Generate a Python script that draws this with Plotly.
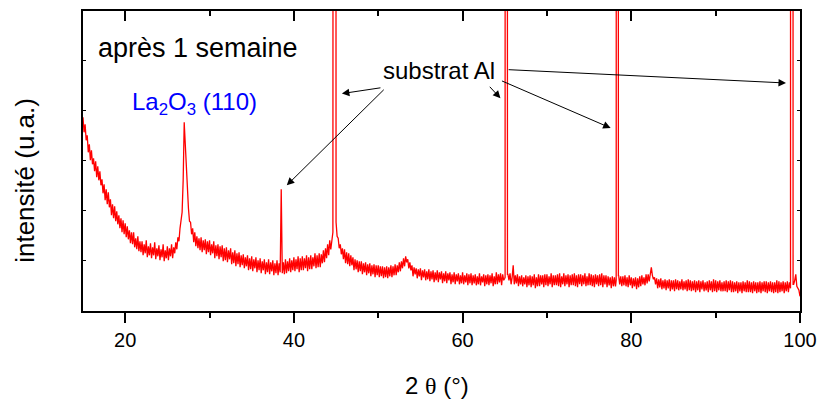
import numpy as np
import plotly.graph_objects as go

# ---- data ----
grid_start, grid_stop, grid_step = 15.0, 100.0, 0.125
# one row per degree (8 samples per degree), then the final point at 100
intensity_rows = [
    [193, 178, 186, 170, 175, 158, 166, 150],   # 15
    [160, 146, 152, 139, 149, 133, 144, 130],   # 16
    [139, 125, 131, 117, 126, 110, 121, 106],   # 17
    [118, 103, 111, 95, 106, 92, 104, 89],      # 18
    [99, 86, 95, 82, 92, 78, 90, 76],           # 19
    [87, 73, 84, 71, 80, 67, 78, 66],           # 20
    [78, 63, 72, 61, 74, 59, 69, 58],           # 21
    [69, 55, 66, 57, 70, 53, 64, 55],           # 22
    [67, 52, 63, 55, 68, 51, 62, 54],           # 23
    [65, 50, 61, 53, 66, 49, 60, 52],           # 24
    [64, 50, 62, 54, 66, 52, 63, 57],           # 25
    [68, 61, 73, 69, 82, 88, 98, 130],          # 26
    [188, 166, 140, 112, 102, 89, 88, 76],      # 27
    [82, 68, 78, 64, 74, 62, 72, 60],           # 28
    [73, 58, 70, 60, 71, 56, 69, 58],           # 29
    [70, 55, 66, 57, 69, 52, 65, 54],           # 30
    [66, 51, 64, 53, 65, 49, 62, 50],           # 31
    [63, 48, 60, 51, 62, 46, 58, 47],           # 32
    [60, 44, 57, 46, 58, 43, 55, 45],           # 33
    [56, 42, 53, 44, 55, 40, 52, 41],           # 34
    [54, 39, 51, 42, 53, 38, 50, 40],           # 35
    [52, 37, 49, 40, 51, 36, 48, 38],           # 36
    [51, 36, 48, 39, 50, 35, 47, 37],           # 37
    [50, 35, 47, 38, 121, 37, 48, 36],          # 38
    [51, 37, 49, 39, 52, 38, 50, 40],           # 39
    [53, 39, 51, 41, 54, 38, 52, 40],           # 40
    [54, 40, 52, 42, 55, 39, 53, 41],           # 41
    [55, 41, 53, 44, 57, 42, 55, 43],           # 42
    [57, 43, 56, 47, 60, 48, 62, 52],           # 43
    [66, 55, 70, 61, 74, 78, 2000, 2000],       # 44
    [88, 74, 72, 62, 66, 56, 62, 51],           # 45
    [61, 47, 58, 46, 57, 44, 55, 45],           # 46
    [53, 40, 51, 41, 50, 38, 49, 39],           # 47
    [49, 36, 47, 38, 48, 35, 46, 37],           # 48
    [47, 34, 45, 36, 46, 33, 45, 35],           # 49
    [45, 33, 44, 34, 44, 32, 43, 33],           # 50
    [44, 32, 43, 34, 45, 33, 44, 35],           # 51
    [46, 35, 45, 38, 48, 39, 49, 42],           # 52
    [52, 44, 54, 48, 51, 42, 48, 40],           # 53
    [45, 34, 43, 36, 42, 32, 41, 34],           # 54
    [42, 30, 40, 33, 41, 30, 39, 31],           # 55
    [41, 29, 39, 31, 40, 28, 38, 30],           # 56
    [40, 28, 38, 31, 39, 27, 37, 29],           # 57
    [39, 27, 37, 30, 38, 26, 36, 28],           # 58
    [38, 26, 36, 29, 37, 26, 35, 27],           # 59
    [38, 26, 35, 28, 37, 25, 36, 27],           # 60
    [37, 25, 35, 27, 36, 25, 34, 26],           # 61
    [37, 25, 34, 28, 36, 24, 35, 26],           # 62
    [36, 25, 35, 27, 37, 24, 34, 26],           # 63
    [38, 26, 36, 28, 37, 25, 36, 30],           # 64
    [32, 2000, 2000, 36, 30, 37, 26, 33],       # 65
    [45, 26, 35, 27, 36, 24, 34, 26],           # 66
    [35, 24, 33, 26, 35, 23, 34, 25],           # 67
    [35, 23, 34, 25, 36, 22, 33, 24],           # 68
    [36, 24, 35, 26, 35, 23, 36, 25],           # 69
    [36, 24, 34, 26, 37, 23, 35, 25],           # 70
    [35, 25, 36, 24, 37, 23, 34, 26],           # 71
    [37, 24, 35, 26, 36, 23, 35, 25],           # 72
    [36, 25, 37, 24, 35, 23, 36, 26],           # 73
    [36, 24, 35, 26, 37, 24, 34, 25],           # 74
    [37, 25, 36, 24, 35, 23, 36, 26],           # 75
    [35, 24, 36, 25, 37, 23, 35, 26],           # 76
    [35, 23, 34, 25, 33, 22, 34, 24],           # 77
    [33, 24, 2000, 2000, 35, 26, 34, 24],       # 78
    [34, 25, 35, 24, 33, 23, 35, 25],           # 79
    [33, 22, 32, 24, 33, 21, 32, 23],           # 80
    [34, 24, 35, 26, 33, 25, 36, 27],           # 81
    [36, 29, 38, 43, 35, 31, 33, 26],           # 82
    [32, 22, 31, 23, 32, 21, 30, 22],           # 83
    [31, 20, 30, 22, 31, 19, 30, 21],           # 84
    [30, 19, 31, 21, 30, 20, 29, 21],           # 85
    [31, 20, 29, 21, 30, 19, 31, 20],           # 86
    [30, 19, 29, 20, 30, 18, 29, 20],           # 87
    [30, 18, 29, 21, 30, 19, 28, 20],           # 88
    [29, 18, 30, 20, 29, 18, 31, 19],           # 89
    [30, 18, 29, 20, 30, 19, 28, 19],           # 90
    [29, 19, 30, 18, 29, 20, 30, 18],           # 91
    [29, 18, 28, 19, 29, 17, 28, 19],           # 92
    [28, 17, 29, 19, 28, 18, 30, 18],           # 93
    [29, 18, 28, 17, 29, 19, 28, 17],           # 94
    [28, 18, 29, 17, 28, 19, 29, 18],           # 95
    [29, 17, 28, 19, 29, 18, 28, 17],           # 96
    [28, 18, 30, 17, 29, 18, 28, 19],           # 97
    [29, 17, 28, 19, 29, 18, 28, 22],           # 98
    [2000, 2000, 26, 30, 36, 24, 22, 20],       # 99
    [14],                                       # 100
]
# extra samples on the sharp reflections
peak_x = [26.95, 27.03, 44.70, 44.94, 65.04, 65.06, 65.29, 65.32,
          78.21, 78.23, 78.44, 78.47, 98.90, 99.15, 99.18]
peak_y = [170, 182, 2000, 2000, 33, 2000, 2000, 36,
          30, 2000, 2000, 34, 2000, 2000, 26]

x_ticks = [20, 40, 60, 80, 100]

intensity_grid = [v for row in intensity_rows for v in row]
grid_x = np.arange(grid_start, grid_stop + 1e-6, grid_step)
assert len(grid_x) == len(intensity_grid), (len(grid_x), len(intensity_grid))
all_x = np.concatenate([grid_x, np.array(peak_x)])
all_y = np.concatenate([np.array(intensity_grid, float), np.array(peak_y, float)])
order = np.argsort(all_x, kind="stable")
two_theta = all_x[order]
intensity = all_y[order]

FONT = "Liberation Sans, Arial, sans-serif"

fig = go.Figure()
fig.add_trace(go.Scatter(x=two_theta, y=intensity, mode="lines",
                         line=dict(color="#ff0000", width=1.3),
                         showlegend=False, hoverinfo="skip"))
fig.add_trace(go.Scatter(x=[None], y=[None], xaxis="x2", showlegend=False, hoverinfo="skip"))

fig.update_layout(
    width=821, height=403,
    margin=dict(l=83, r=21, t=11, b=92, autoexpand=False),
    plot_bgcolor="white", paper_bgcolor="white",
    font=dict(family=FONT, color="black"),
    xaxis=dict(range=[15, 100], tickvals=x_ticks, ticks="outside", ticklen=10, tickwidth=1.8,
               tickcolor="black", showline=True, linecolor="black", linewidth=2,
               showgrid=False, zeroline=False, tickfont=dict(size=20, family=FONT),
               automargin=False,
               minor=dict(dtick=10, tick0=0, ticks="outside", ticklen=5, tickwidth=1.8, tickcolor="black")),
    xaxis2=dict(range=[15, 100], overlaying="x", side="top", tickvals=x_ticks, ticks="inside",
                ticklen=10, tickwidth=1.8, tickcolor="black", showline=True, linecolor="black",
                linewidth=2, showticklabels=False, showgrid=False, zeroline=False, automargin=False,
                minor=dict(dtick=10, tick0=0, ticks="inside", ticklen=5, tickwidth=1.8, tickcolor="black")),
    yaxis=dict(range=[-0.7, 299.3], tick0=0, dtick=50, ticks="inside", ticklen=3, tickwidth=1.2,
               tickcolor="black", showticklabels=False, showline=True, linecolor="black",
               linewidth=2, mirror="ticks", showgrid=False, zeroline=False, automargin=False),
)

ann = []
ann.append(dict(text="après 1 semaine", x=16.5, y=262, xref="x", yref="y", xanchor="left",
                yanchor="middle", showarrow=False, font=dict(size=27, color="black", family=FONT)))
ann.append(dict(text="La<sub>2</sub>O<sub>3</sub> (110)", x=20.6, y=207, xref="x", yref="y",
                xanchor="left", yanchor="middle", showarrow=False,
                font=dict(size=24, color="#0000ff", family=FONT)))
ann.append(dict(text="substrat Al", x=50.3, y=240, xref="x", yref="y", xanchor="left",
                yanchor="middle", showarrow=False, font=dict(size=24, color="black", family=FONT)))
arrows = [((50.44, 222.7), (45.69, 216.7)),
          ((50.83, 222.0), (39.16, 125.0)),
          ((63.06, 225.0), (64.49, 212.0)),
          ((64.49, 230.0), (77.55, 182.3)),
          ((65.28, 240.7), (98.34, 227.3))]
for (tx, ty), (hx, hy) in arrows:
    ann.append(dict(text="", x=hx, y=hy, ax=tx, ay=ty, xref="x", yref="y", axref="x", ayref="y",
                    showarrow=True, arrowhead=2, arrowsize=1.5, arrowwidth=1, arrowcolor="black",
                    standoff=0, startstandoff=0))
ann.append(dict(text="2 <span style=\"font-family:'Liberation Serif'\">θ</span> (°)",
                x=0.494, y=-0.248, xref="paper", yref="paper", xanchor="center", yanchor="middle",
                showarrow=False, font=dict(size=24, color="black", family=FONT)))
ann.append(dict(text="intensité (u.a.)", x=-0.081, y=0.437, xref="paper", yref="paper",
                xanchor="center", yanchor="middle", textangle=-90, showarrow=False,
                font=dict(size=26, color="black", family=FONT)))
fig.update_layout(annotations=ann)

fig.write_html("out.html", config={"displayModeBar": False},
               post_script="document.body.style.margin='0';document.body.style.padding='0';")
